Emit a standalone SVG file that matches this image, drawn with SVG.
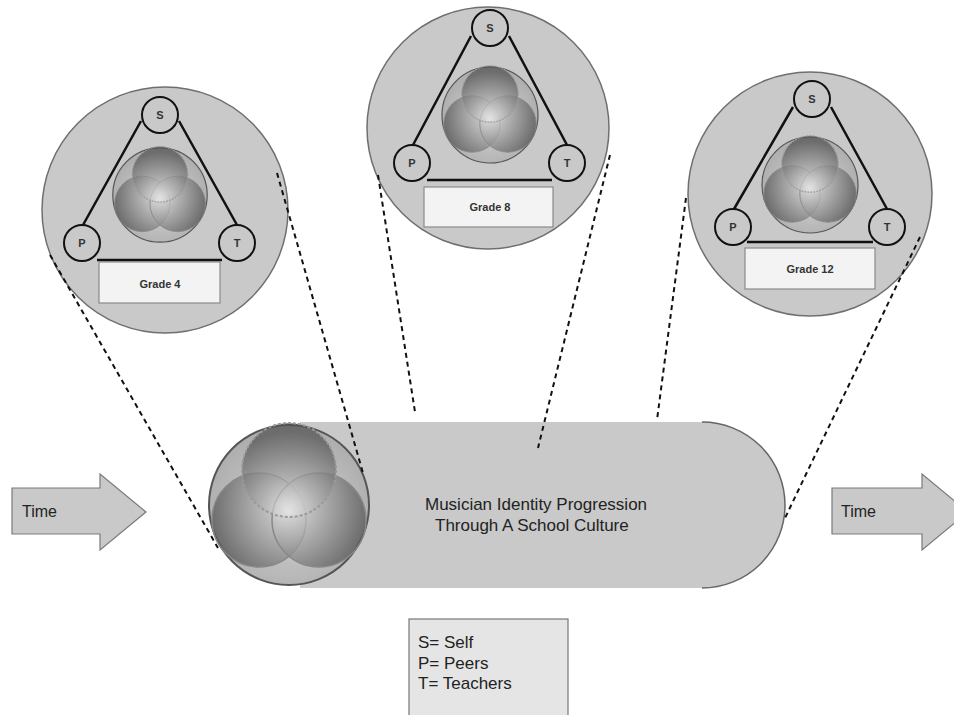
<svg xmlns="http://www.w3.org/2000/svg" xmlns:xlink="http://www.w3.org/1999/xlink" width="954" height="715" viewBox="0 0 954 715">
<style>
.big{fill:#c9c9c9;stroke:#6f6f6f;stroke-width:1.5}
.node{fill:#c9c9c9;stroke:#111;stroke-width:2}
.tri{stroke:#111;stroke-width:2.5;fill:none}
.lab{fill:#f3f3f3;stroke:#8a8a8a;stroke-width:1.2}
.lt{font-family:"Liberation Sans",Arial,sans-serif;font-weight:bold;font-size:11px;fill:#333;text-anchor:middle}
.nt{font-family:"Liberation Sans",Arial,sans-serif;font-weight:bold;font-size:11px;fill:#333;text-anchor:middle}
.txt{font-family:"Liberation Sans",Arial,sans-serif;font-size:17px;fill:#222}
.tm{font-family:"Liberation Sans",Arial,sans-serif;font-size:16px;fill:#222}
.dash{stroke:#111;stroke-width:2;stroke-dasharray:5 4;fill:none}
.arrow{fill:#c9c9c9;stroke:#7a7a7a;stroke-width:1.2}
</style>
<defs>
<radialGradient id="gOuter" cx="0.5" cy="0.55" r="0.6"><stop offset="0" stop-color="#d6d6d6"/><stop offset="1" stop-color="#a9a9a9"/></radialGradient>
<radialGradient id="gTop" cx="0.5" cy="0.95" r="0.85"><stop offset="0" stop-color="#e6e6e6"/><stop offset="1" stop-color="#505050"/></radialGradient>
<radialGradient id="gLeft" cx="0.85" cy="0.35" r="0.9"><stop offset="0" stop-color="#e6e6e6"/><stop offset="1" stop-color="#505050"/></radialGradient>
<radialGradient id="gRight" cx="0.15" cy="0.35" r="0.9"><stop offset="0" stop-color="#e6e6e6"/><stop offset="1" stop-color="#505050"/></radialGradient>
<g id="venn">
<circle r="80" fill="url(#gOuter)" stroke="#555" stroke-width="2"/>
<circle cx="-30" cy="15" r="47" fill="url(#gLeft)" fill-opacity="0.75" stroke="#888" stroke-width="1.5"/>
<circle cx="30" cy="15" r="47" fill="url(#gRight)" fill-opacity="0.75" stroke="#888" stroke-width="1.5"/>
<circle cx="0" cy="-35" r="47" fill="url(#gTop)" fill-opacity="0.7" stroke="#999" stroke-width="2" stroke-dasharray="3 2"/>
</g>
</defs>

<g id="time-left">
<path class="arrow" d="M12 488 H100 V474 L146 512 L100 550 V534 H12 Z"/>
<text class="tm" x="22" y="517">Time</text>
</g>
<g id="time-right">
<path class="arrow" d="M832 488 H922 V474 L968 512 L922 550 V534 H832 Z"/>
<text class="tm" x="841" y="517">Time</text>
</g>

<g id="progression">
<path d="M300 422 H702 A83 83 0 0 1 702 588 H300 Z" fill="#c9c9c9"/>
<path d="M702 422 A83 83 0 0 1 702 588" fill="none" stroke="#666" stroke-width="1.5"/>
<use xlink:href="#venn" href="#venn" transform="translate(289,505)"/>
<text class="txt" x="425" y="510">Musician Identity Progression</text>
<text class="txt" x="435" y="531">Through A School Culture</text>
</g>

<g id="grade4">
<circle class="big" cx="165" cy="210" r="123"/>
<path class="tri" d="M141 121 L83 225 M179 121 L237 225 M97 260 H222"/>
<circle class="node" cx="160" cy="115" r="18"/>
<circle class="node" cx="82" cy="243" r="18"/>
<circle class="node" cx="237" cy="243" r="18"/>
<text class="nt" x="160" y="119">S</text>
<text class="nt" x="82" y="247">P</text>
<text class="nt" x="237" y="247">T</text>
<use xlink:href="#venn" href="#venn" transform="translate(160,195) scale(0.59)"/>
<rect class="lab" x="99" y="262" width="121" height="41"/>
<text class="lt" x="160" y="288">Grade 4</text>
</g>

<g id="grade8">
<circle class="big" cx="488" cy="128" r="121"/>
<path class="tri" d="M471 36 L413 145 M509 36 L567 145 M427 180 H552"/>
<circle class="node" cx="490" cy="28" r="18"/>
<circle class="node" cx="412" cy="163" r="18"/>
<circle class="node" cx="567" cy="163" r="18"/>
<text class="nt" x="490" y="32">S</text>
<text class="nt" x="412" y="167">P</text>
<text class="nt" x="567" y="167">T</text>
<use xlink:href="#venn" href="#venn" transform="translate(490,115) scale(0.6)"/>
<rect class="lab" x="424" y="187" width="129" height="40"/>
<text class="lt" x="490" y="211">Grade 8</text>
</g>

<g id="grade12">
<circle class="big" cx="810" cy="194" r="122"/>
<path class="tri" d="M793 107 L734 209 M831 107 L887 209 M747 242 H873"/>
<circle class="node" cx="812" cy="99" r="18"/>
<circle class="node" cx="733" cy="227" r="18"/>
<circle class="node" cx="887" cy="227" r="18"/>
<text class="nt" x="812" y="103">S</text>
<text class="nt" x="733" y="231">P</text>
<text class="nt" x="887" y="231">T</text>
<use xlink:href="#venn" href="#venn" transform="translate(810,185) scale(0.6)"/>
<rect class="lab" x="745" y="248" width="130" height="41"/>
<text class="lt" x="810" y="273">Grade 12</text>
</g>

<g id="legend">
<rect x="409" y="619" width="159" height="110" fill="#e5e5e5" stroke="#777" stroke-width="1.2"/>
<text class="txt" x="418" y="648">S= Self</text>
<text class="txt" x="418" y="669">P= Peers</text>
<text class="txt" x="418" y="689">T= Teachers</text>
</g>

<g id="connectors">
<path class="dash" d="M50 255 L218 548"/>
<path class="dash" d="M277 173 L363 473"/>
<path class="dash" d="M378 175 L415 412"/>
<path class="dash" d="M610 155 L538 448"/>
<path class="dash" d="M686 198 L657 420"/>
<path class="dash" d="M920 237 L785 518"/>
</g>
</svg>
